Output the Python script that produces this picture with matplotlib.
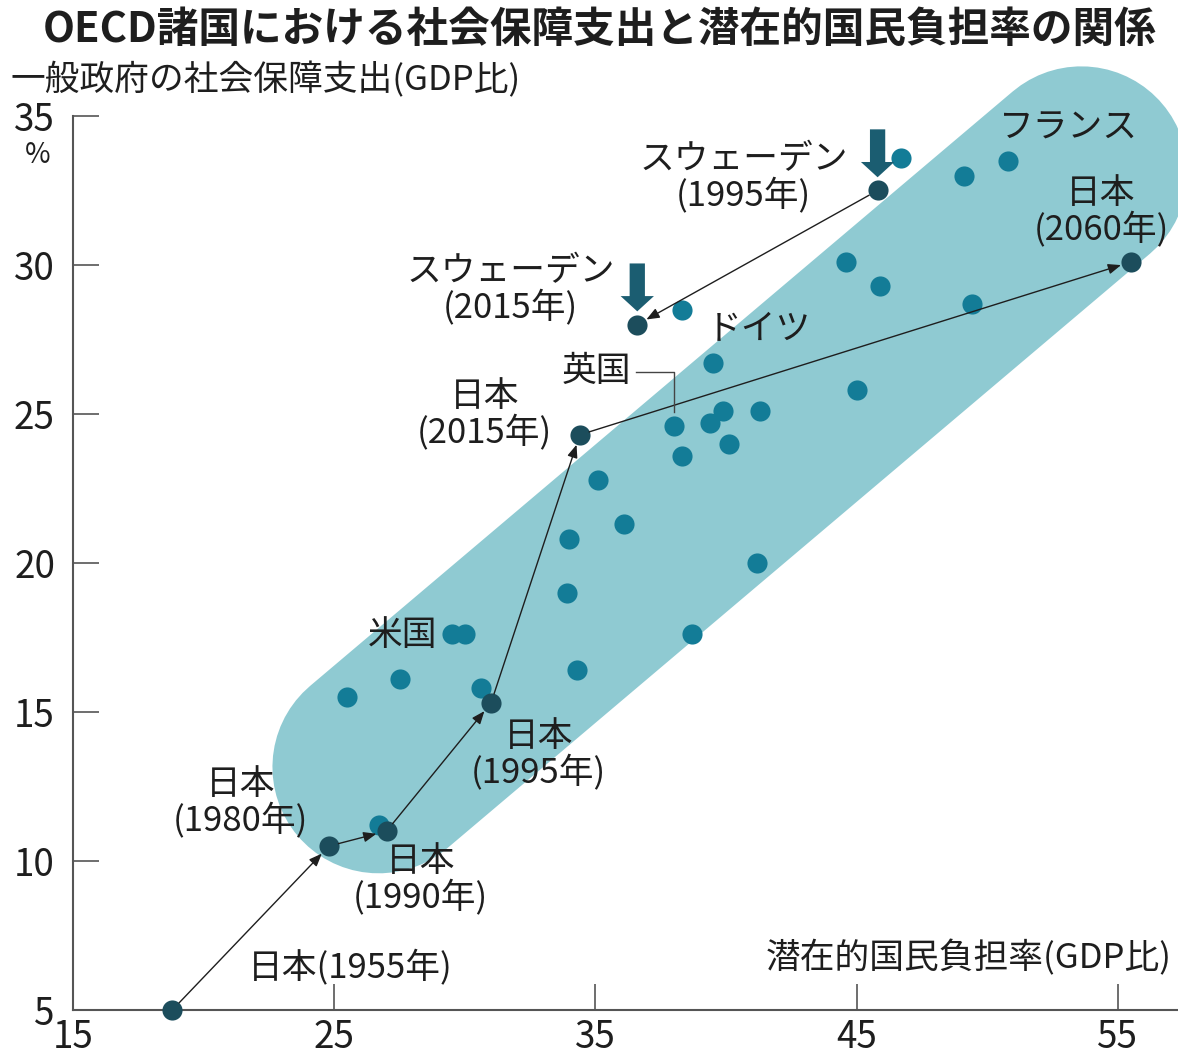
import matplotlib.pyplot as plt

plt.rcParams['font.family'] = ['Noto Sans CJK JP', 'DejaVu Sans']

# 潜在的国民負担率(x)と一般政府の社会保障支出(y)、いずれもGDP比(%)
oecd_x = [46.7, 50.8, 49.1, 44.6, 45.9, 49.4, 38.3, 39.5, 38.0, 39.4,
          39.9, 41.3, 40.1, 38.3, 45.0, 35.1, 36.1, 34.0, 33.9, 41.2,
          38.7, 34.3, 29.5, 30.0, 25.5, 27.5, 30.6, 26.7]
oecd_y = [33.6, 33.5, 33.0, 30.1, 29.3, 28.7, 28.5, 26.7, 24.6, 24.7,
          25.1, 25.1, 24.0, 23.6, 25.8, 22.8, 21.3, 20.8, 19.0, 20.0,
          17.6, 16.4, 17.6, 17.6, 15.5, 16.1, 15.8, 11.2]
uk_idx = 8  # 英国

japan_years = ['1955', '1980', '1990', '1995', '2015', '2060']
japan_x = [18.8, 24.8, 27.0, 31.0, 34.4, 55.5]
japan_y = [5.0, 10.5, 11.0, 15.3, 24.3, 30.1]

sweden_years = ['1995', '2015']
sweden_x = [45.8, 36.6]
sweden_y = [32.5, 28.0]

xticks = [15, 25, 35, 45, 55]
yticks = [5, 10, 15, 20, 25, 30, 35]

band_color = '#8fcad2'
dot_color = '#137c97'
dark_color = '#1c4d5c'
block_color = '#1b5d71'
ink = '#1e1e1e'
axis_color = '#555555'

fig = plt.figure(figsize=(11.78, 10.58), dpi=100)
ax = fig.add_axes([0.062, 0.0454, 0.938, 0.845])
ax.set_xlim(15, 57.3)
ax.set_ylim(5, 35)

# 背景の帯
ax.plot([26.7, 53.6], [13.15, 33.1], color=band_color, lw=153,
        solid_capstyle='round', zorder=0, clip_on=False)

ax.scatter(oecd_x, oecd_y, s=210, color=dot_color, lw=0, zorder=3)
ax.scatter(japan_x + sweden_x, japan_y + sweden_y, s=210, color=dark_color,
           lw=0, zorder=4, clip_on=False)

# 推移の矢印
arrow_kw = dict(arrowstyle='-|>,head_length=0.55,head_width=0.22', color=ink,
                lw=1.0, shrinkA=7, shrinkB=7.5, mutation_scale=14)
for i in range(len(japan_x) - 1):
    ax.annotate('', xy=(japan_x[i + 1], japan_y[i + 1]),
                xytext=(japan_x[i], japan_y[i]), arrowprops=arrow_kw, zorder=5)
ax.annotate('', xy=(sweden_x[1], sweden_y[1]), xytext=(sweden_x[0], sweden_y[0]),
            arrowprops=arrow_kw, zorder=5)

# スウェーデンの下向き矢印
for sx, sy in zip(sweden_x, sweden_y):
    ax.annotate('', xy=(sx, sy), xytext=(0, 44), textcoords='offset points',
                arrowprops=dict(arrowstyle='simple,head_length=11,head_width=24,tail_width=11',
                                mutation_scale=1, color=block_color, lw=0,
                                shrinkA=0, shrinkB=9.5), zorder=5)

lab = dict(fontsize=25, color=ink, ha='center', va='center', linespacing=1.05, zorder=6)

sweden_pos = [(40.67, 32.92), (31.74, 29.16)]
for yr, (tx, ty) in zip(sweden_years, sweden_pos):
    ax.text(tx, ty, f'スウェーデン\n({yr}年)', **lab)

japan_pos = [(25.61, 6.41), (21.4, 11.95), (28.3, 9.36),
             (32.82, 13.56), (30.75, 24.97), (54.35, 31.78)]
for i, (yr, (tx, ty)) in enumerate(zip(japan_years, japan_pos)):
    txt = f'日本({yr}年)' if i == 0 else f'日本\n({yr}年)'
    ax.text(tx, ty, txt, **lab)

ax.text(41.25, 27.82, 'ドイツ', **lab)
ax.text(53.12, 34.6, 'フランス', **lab)
ax.text(27.6, 17.58, '米国', **lab)
ax.text(35.04, 26.41, '英国', **lab)
ux, uy = oecd_x[uk_idx], oecd_y[uk_idx]
ax.plot([ux - 1.45, ux, ux], [26.41, 26.41, uy + 0.45], color='#444444', lw=1.0, zorder=5)

ax.text(57.05, 6.74, '潜在的国民負担率(GDP比)', fontsize=25, color=ink,
        ha='right', va='center')

ax.set_xticks(xticks)
ax.set_yticks(yticks)
ax.tick_params(direction='in', length=19, width=1.2, color=axis_color,
               labelsize=26.5, labelcolor=ink)
ax.tick_params(axis='y', pad=13)
ax.tick_params(axis='x', pad=6)

ax.spines[['top', 'right']].set_visible(False)
for s in ['left', 'bottom']:
    ax.spines[s].set_color(axis_color)
    ax.spines[s].set_linewidth(1.5)

fig.text(0.509, 0.972, 'OECD諸国における社会保障支出と潜在的国民負担率の関係',
         fontsize=30, fontweight='bold', color=ink, ha='center', va='center')
fig.text(10 / 1178, 1 - 80 / 1058, '一般政府の社会保障支出(GDP比)',
         fontsize=25, color=ink, ha='left', va='center')
fig.text(38 / 1178, 1 - 155 / 1058, '%', fontsize=20, color=ink,
         ha='center', va='center')

fig.savefig('out.png', dpi=100)
